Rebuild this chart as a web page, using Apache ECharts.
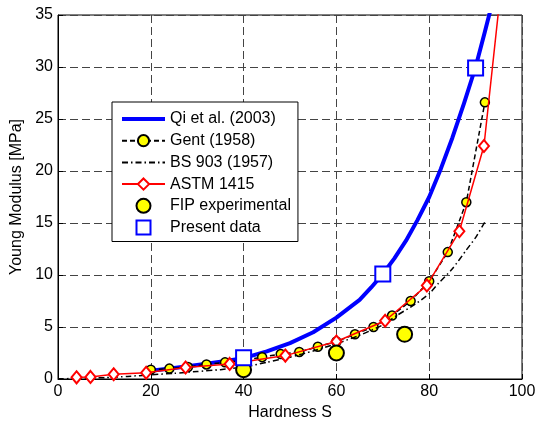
<!DOCTYPE html>
<html lang="en">
<head>
    <meta charset="UTF-8">
    <title>Young Modulus vs Hardness</title>
    <script src="https://cdn.jsdelivr.net/npm/echarts@6/dist/echarts.min.js"></script>
</head>
<style>
    html, body {
        margin: 0;
        padding: 0;
        background: #ffffff;
    }

    #chart {
        width: 537px;
        height: 423px;
    }
</style>
<body>
<div id="chart"></div>
<script type="text/javascript">
    // 曲线数据 [hardness, modulus]
    const qiData = [[20, 0.8], [25, 1.05], [30, 1.35], [35, 1.65], [40, 2.0], [45, 2.65], [50, 3.45], [55, 4.5],
        [60, 5.9], [65, 7.6], [67.5, 8.8], [70, 10.1], [72.5, 11.6], [75, 13.3], [77.5, 15.3], [80, 17.5],
        [82.5, 20.2], [85, 23.2], [87.5, 26.5], [90, 30.0], [92, 33.4], [93.5, 36.0]];
    const gentData = [[20, 0.9], [24, 1.0], [28, 1.15], [32, 1.4], [36, 1.6], [40, 1.8], [44, 2.1], [48, 2.4],
        [52, 2.6], [56, 3.1], [60, 3.6], [64, 4.3], [68, 5.0], [72, 6.1], [76, 7.5], [80, 9.4], [84, 12.2],
        [88, 17.0], [92, 26.6]];
    const bsData = [[0, 0.02], [5, 0.06], [10, 0.13], [15, 0.25], [20, 0.4], [25, 0.55], [30, 0.72], [35, 0.9],
        [40, 1.15], [45, 1.6], [50, 2.1], [55, 2.7], [60, 3.4], [65, 4.2], [70, 5.2], [73, 6.1], [77, 7.2],
        [80, 8.2], [82, 9.2], [85, 10.6], [88, 12.4], [90, 13.6], [92, 15.1]];
    const astmData = [[4, 0.16], [7, 0.2], [12, 0.45], [19, 0.6], [27.5, 1.1], [37, 1.45], [49, 2.25], [60, 3.6],
        [70.5, 5.6], [79.5, 9.0], [86.5, 14.2], [91.8, 22.4], [96, 39.8]];
    const fipData = [[40, 0.9], [60, 2.5], [74.7, 4.3]];
    const presentData = [[40, 2.05], [70, 10.1], [90, 29.9]];

    const xTicks = {min: 0, max: 100, interval: 20};
    const yTicks = {min: 0, max: 35, interval: 5};

    const font = "'Liberation Sans', Arial, sans-serif";
    const gridLine = {show: true, lineStyle: {color: '#444', type: [8, 4], width: 1}};
    const noMarker = {color: 'rgba(0,0,0,0)', borderColor: 'rgba(0,0,0,0)', borderWidth: 0};

    let myChart = echarts.init(document.getElementById('chart'), null, {renderer: 'canvas'});
    let option = {
        animation: false,
        backgroundColor: '#ffffff',
        textStyle: {fontFamily: font},
        grid: {
            left: 58, top: 15, right: 15, bottom: 44,
            outerBoundsMode: 'none',
            containLabel: false,
            show: true, borderColor: '#000', borderWidth: 1, backgroundColor: '#fff'
        },
        legend: {
            orient: 'vertical',
            left: 112, top: 102,
            backgroundColor: '#fff',
            borderColor: '#000',
            borderWidth: 1,
            borderRadius: 0,
            padding: [9, 7, 6, 8],
            itemWidth: 43,
            itemHeight: 14,
            itemGap: 5.7,
            textStyle: {fontSize: 16, color: '#000', fontFamily: font},
            data: [
                {name: 'Qi et al. (2003)', itemStyle: noMarker, lineStyle: {width: 4}},
                {name: 'Gent (1958)'},
                {name: 'BS 903 (1957)', itemStyle: noMarker},
                {name: 'ASTM 1415'},
                {name: 'FIP experimental'},
                {name: 'Present data', icon: 'path://M0,0L10,0L10,10L0,10Z'}
            ]
        },
        xAxis: {
            type: 'value',
            min: xTicks.min, max: xTicks.max, interval: xTicks.interval,
            name: 'Hardness S',
            nameLocation: 'middle',
            nameGap: 26,
            nameTextStyle: {fontSize: 16, color: '#000', fontFamily: font},
            axisLine: {show: true, lineStyle: {color: '#000'}},
            axisTick: {show: true, inside: true, length: 5, lineStyle: {color: '#000'}},
            axisLabel: {fontSize: 16, color: '#000', margin: 5, fontFamily: font},
            splitLine: gridLine
        },
        yAxis: {
            type: 'value',
            min: yTicks.min, max: yTicks.max, interval: yTicks.interval,
            name: 'Young Modulus [MPa]',
            nameLocation: 'middle',
            nameGap: 31,
            nameTextStyle: {fontSize: 16, color: '#000', fontFamily: font},
            axisLine: {show: true, lineStyle: {color: '#000'}},
            axisTick: {show: true, inside: true, length: 5, lineStyle: {color: '#000'}},
            axisLabel: {fontSize: 16, color: '#000', margin: 5, fontFamily: font},
            splitLine: gridLine
        },
        series: [
            {
                name: 'Qi et al. (2003)',
                type: 'line',
                data: qiData,
                symbol: 'none',
                color: '#0000ff',
                lineStyle: {color: '#0000ff', width: 4, join: 'round'},
                z: 2
            },
            {
                name: 'Gent (1958)',
                type: 'line',
                data: gentData,
                symbol: 'circle',
                symbolSize: 9,
                color: '#000',
                lineStyle: {color: '#000', width: 1.5, type: [5, 3]},
                itemStyle: {color: '#ffff00', borderColor: '#000', borderWidth: 1.5},
                z: 3
            },
            {
                name: 'BS 903 (1957)',
                type: 'line',
                data: bsData,
                smooth: 0.2,
                symbol: 'none',
                color: '#000',
                lineStyle: {color: '#000', width: 1.5, type: [6, 3, 1.5, 3]},
                z: 4
            },
            {
                name: 'ASTM 1415',
                type: 'line',
                data: astmData,
                symbol: 'diamond',
                symbolSize: [10, 12],
                color: '#ff0000',
                lineStyle: {color: '#ff0000', width: 1.5},
                itemStyle: {color: '#fff', borderColor: '#ff0000', borderWidth: 2},
                z: 5
            },
            {
                name: 'FIP experimental',
                type: 'scatter',
                data: fipData,
                symbol: 'circle',
                symbolSize: 15,
                itemStyle: {color: '#ffff00', borderColor: '#000', borderWidth: 2, opacity: 1},
                z: 6
            },
            {
                name: 'Present data',
                type: 'scatter',
                data: presentData,
                symbol: 'rect',
                symbolSize: 15,
                itemStyle: {color: '#fff', borderColor: '#0000ff', borderWidth: 2, opacity: 1},
                z: 7
            }
        ]
    };
    myChart.setOption(option, true);
</script>
</body>
</html>
